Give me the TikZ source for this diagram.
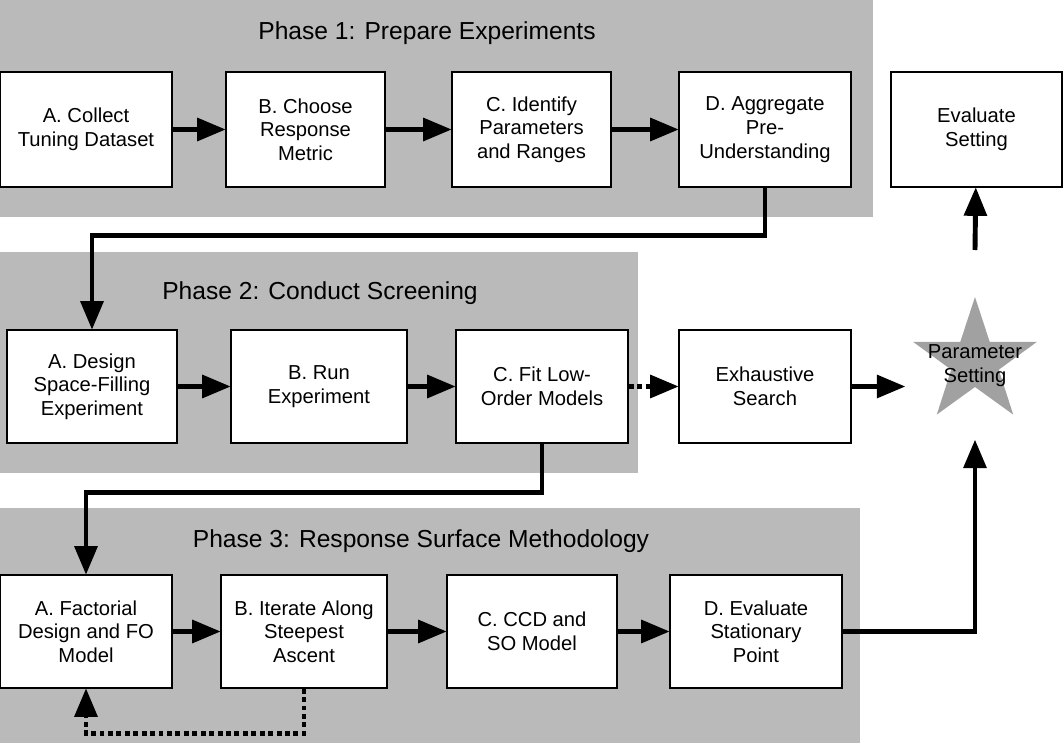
\documentclass[tikz,border=0pt]{standalone}
\usepackage{fontspec}
\setmainfont{Liberation Sans}
\usetikzlibrary{arrows,shapes.geometric,positioning}
\begin{document}
\begin{tikzpicture}[x=0.02cm,y=-0.02cm,>=triangle 45,line width=2.8pt,font=\fontsize{11.5}{13.5}\selectfont]
\tikzstyle{phase}=[fill=black!27,draw=none]
\tikzstyle{stepbox}=[draw,line width=0.8pt,fill=white,align=center,inner sep=2pt]
\tikzstyle{title}=[font=\fontsize{14}{17}\selectfont]
\useasboundingbox (0,0) rectangle (1063,743);
% phases
\fill[black!27] (0,0) rectangle (873,217);
\fill[black!27] (0,252) rectangle (638,473);
\fill[black!27] (0,508) rectangle (860,743);
\node[title] (P1) at (427,33) {Phase 1: Prepare Experiments};
\node[title] (P2) at (320,293) {Phase 2: Conduct Screening};
\node[title] (P3) at (421,541) {Phase 3: Response Surface Methodology};
% phase 1
\node[stepbox,minimum width=3.44cm,minimum height=2.3cm] (A1) at (86,129.5) {A. Collect\\Tuning Dataset};
\node[stepbox,minimum width=3.18cm,minimum height=2.3cm] (B1) at (305.5,129.5) {B. Choose\\Response\\Metric};
\node[stepbox,minimum width=3.18cm,minimum height=2.3cm] (C1) at (531.5,129.5) {C. Identify\\Parameters\\and Ranges};
\node[stepbox,minimum width=3.44cm,minimum height=2.3cm] (D1) at (765,129.5) {D. Aggregate\\Pre-\\Understanding};
\node[stepbox,minimum width=3.42cm,minimum height=2.3cm] (E) at (976.5,129.5) {Evaluate\\Setting};
% phase 2
\node[stepbox,minimum width=3.4cm,minimum height=2.26cm] (A2) at (92,386.5) {A. Design\\Space-Filling\\Experiment};
\node[stepbox,minimum width=3.52cm,minimum height=2.26cm] (B2) at (319,386.5) {B. Run\\Experiment};
\node[stepbox,minimum width=3.44cm,minimum height=2.26cm] (C2) at (542,386.5) {C. Fit Low-\\Order Models};
\node[stepbox,minimum width=3.44cm,minimum height=2.26cm] (X) at (765,386.5) {Exhaustive\\Search};
% phase 3
\node[stepbox,minimum width=3.44cm,minimum height=2.26cm] (A3) at (86,631.5) {A. Factorial\\Design and FO\\Model};
\node[stepbox,minimum width=3.32cm,minimum height=2.26cm] (B3) at (304,631.5) {B. Iterate Along\\Steepest\\Ascent};
\node[stepbox,minimum width=3.4cm,minimum height=2.26cm] (C3) at (532,631.5) {C. CCD and\\SO Model};
\node[stepbox,minimum width=3.44cm,minimum height=2.26cm] (D3) at (756,631.5) {D. Evaluate\\Stationary\\Point};
% parameter setting
\node[star,star points=5,star point ratio=2.6,fill=black!37,minimum size=2.6cm,inner sep=0pt,align=center] (S) at (975,362) {};
\node[align=center] (ST) at (975,366) {Parameter\\Setting};
\coordinate (S1) at (975,440);
\coordinate (S2) at (975,250);
\coordinate (S3) at (905,386.5);
\path[->]
  (A1) edge (B1)
  (B1) edge (C1)
  (C1) edge (D1)
  (A2) edge (B2)
  (B2) edge (C2)
  (A3) edge (B3)
  (B3) edge (C3)
  (C3) edge (D3);
\draw[->] (D1.south) -- ++(0,48) -| (A2.north);
\draw[->] (C2.south) -- ++(0,49) -| (A3.north);
\draw[->,dotted] (C2) -- (X);
\draw[->] (X) -- (S3);
\draw[->] (D3) -| (S1);
\draw[->] (S2) -- (E);
\draw[->,dotted] (B3.south) -- ++(0,45) -| (A3.south);
\end{tikzpicture}
\end{document}
